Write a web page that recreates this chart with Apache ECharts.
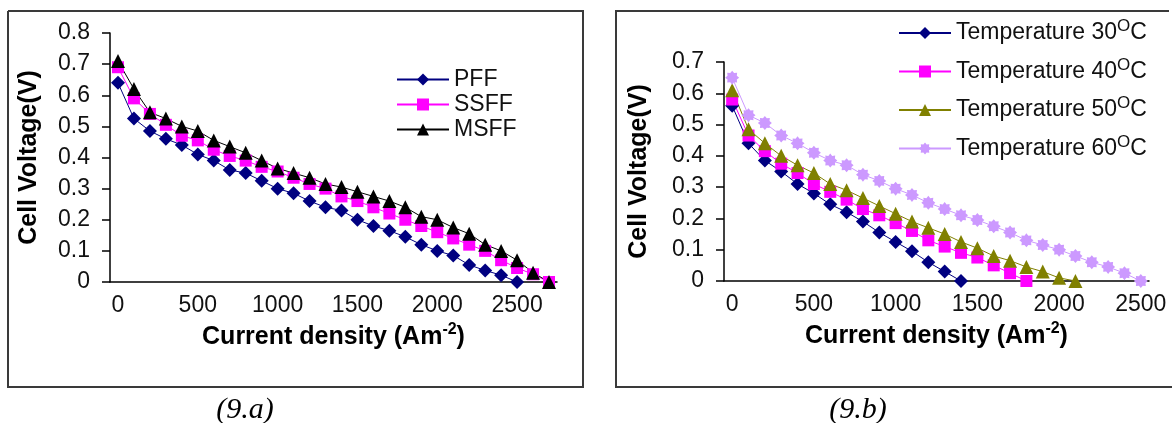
<!DOCTYPE html>
<html>
<head>
<meta charset="utf-8">
<script src="https://cdn.jsdelivr.net/npm/echarts@6/dist/echarts.min.js"></script>
<style>
  html, body { margin: 0; padding: 0; background: #fff; }
  #chart { width: 1172px; height: 423px; }
</style>
</head>
<body>
<div id="chart"></div>
<script>
// Current density categories (A m^-2) for the flow-field comparison
const densityA = [0, 100, 200, 300, 400, 500, 600, 700, 800, 900, 1000, 1100, 1200, 1300,
  1400, 1500, 1600, 1700, 1800, 1900, 2000, 2100, 2200, 2300, 2400, 2500, 2600, 2700];
// Cell voltage (V) per flow field design
const pff = [0.64, 0.525, 0.485, 0.46, 0.44, 0.41, 0.39, 0.36, 0.35, 0.325, 0.30, 0.285, 0.26, 0.24,
  0.23, 0.20, 0.18, 0.165, 0.145, 0.12, 0.10, 0.085, 0.055, 0.037, 0.022, 0.0];
const ssff = [0.69, 0.59, 0.54, 0.505, 0.47, 0.455, 0.425, 0.405, 0.39, 0.37, 0.355, 0.335, 0.315, 0.30,
  0.275, 0.26, 0.24, 0.22, 0.20, 0.18, 0.16, 0.14, 0.12, 0.10, 0.07, 0.045, 0.025, 0.0];
const msff = [0.71, 0.62, 0.545, 0.525, 0.50, 0.485, 0.455, 0.435, 0.415, 0.39, 0.365, 0.35, 0.335, 0.315,
  0.305, 0.29, 0.275, 0.26, 0.24, 0.21, 0.20, 0.175, 0.155, 0.12, 0.10, 0.07, 0.03, 0.0];
const flowFieldNames = ['PFF', 'SSFF', 'MSFF'];

// Current density categories (A m^-2) for the temperature study
const densityB = [0, 100, 200, 300, 400, 500, 600, 700, 800, 900, 1000, 1100, 1200,
  1300, 1400, 1500, 1600, 1700, 1800, 1900, 2000, 2100, 2200, 2300, 2400, 2500];
// Cell voltage (V) per operating temperature
const temp30 = [0.56, 0.44, 0.385, 0.35, 0.31, 0.28, 0.245, 0.22, 0.19, 0.155, 0.125, 0.095, 0.06, 0.03, 0.0];
const temp40 = [0.58, 0.465, 0.415, 0.375, 0.345, 0.31, 0.285, 0.26, 0.23, 0.21, 0.185, 0.16, 0.13,
  0.11, 0.09, 0.075, 0.05, 0.025, 0.0];
const temp50 = [0.61, 0.485, 0.44, 0.40, 0.37, 0.345, 0.31, 0.29, 0.265, 0.24, 0.215, 0.19, 0.17,
  0.15, 0.125, 0.105, 0.08, 0.065, 0.045, 0.03, 0.01, 0.0];
const temp60 = [0.65, 0.53, 0.505, 0.465, 0.44, 0.41, 0.385, 0.37, 0.34, 0.32, 0.295, 0.275, 0.25,
  0.23, 0.21, 0.195, 0.175, 0.155, 0.13, 0.115, 0.10, 0.08, 0.06, 0.045, 0.025, 0.0];
const temperatures = ['30', '40', '50', '60'];

const SANS = "'Liberation Sans', Arial, sans-serif";
const SERIF = "'Liberation Serif', 'Times New Roman', serif";

// eight-point star marker
function starPath() {
  const pts = [];
  for (let k = 0; k < 16; k++) {
    const a = k * Math.PI / 8;
    const r = k % 2 ? 7.2 : 10;
    pts.push((10 + r * Math.cos(a)).toFixed(2) + ' ' + (10 + r * Math.sin(a)).toFixed(2));
  }
  return 'path://M' + pts.join(' L') + ' Z';
}

const axisNameRich = {
  b: { fontFamily: SANS, fontWeight: 'bold', fontSize: 25, lineHeight: 30, color: '#000' },
  bs: { fontFamily: SANS, fontWeight: 'bold', fontSize: 16, lineHeight: 16, verticalAlign: 'top', color: '#000' }
};

function xAxisFor(gridIndex, cats) {
  return {
    type: 'category', gridIndex, data: cats, boundaryGap: true,
    name: '{b|Current density (Am}{bs|-2}{b|)}',
    nameLocation: 'middle', nameGap: 38,
    nameTextStyle: { rich: axisNameRich },
    axisLine: { lineStyle: { color: '#000', width: 1.5 } },
    axisTick: { interval: 0, length: 8, lineStyle: { color: '#000', width: 1.5 } },
    axisLabel: {
      interval: (idx) => idx % 5 === 0,
      fontFamily: SANS, fontSize: 23, color: '#111', margin: 12
    },
    splitLine: { show: false }
  };
}

function yAxisFor(gridIndex, max, gap) {
  return {
    type: 'value', gridIndex, min: 0, max, interval: 0.1,
    name: 'Cell Voltage(V)', nameLocation: 'middle', nameGap: gap,
    nameTextStyle: { fontFamily: SANS, fontWeight: 'bold', fontSize: 25, color: '#000' },
    axisLine: { show: true, lineStyle: { color: '#000', width: 1.5 } },
    axisTick: { show: true, length: 8, lineStyle: { color: '#000', width: 1.5 } },
    axisLabel: { fontFamily: SANS, fontSize: 23, color: '#111', margin: 20 },
    splitLine: { show: false }
  };
}

function lineSeries(name, data, color, symbol, size, axisIdx) {
  return {
    name, type: 'line', data, xAxisIndex: axisIdx, yAxisIndex: axisIdx,
    symbol, symbolSize: size, showAllSymbol: true,
    lineStyle: { color, width: 1 },
    itemStyle: { color, borderWidth: 0 },
    animation: false
  };
}

const tempColors = ['#000080', '#FF00FF', '#808000', '#CC99FF'];
const tempSymbols = ['diamond', 'rect', 'triangle', starPath()];
const tempSizes = [14, 12, 14, 14];
const tempData = [temp30, temp40, temp50, temp60];

const chart = echarts.init(document.getElementById('chart'), null, { renderer: 'canvas' });

chart.setOption({
  backgroundColor: '#fff',
  animation: false,
  grid: [
    { left: 110, top: 33, width: 447, height: 249 },
    { left: 724, top: 62, width: 425, height: 219 }
  ],
  xAxis: [xAxisFor(0, densityA), xAxisFor(1, densityB)],
  yAxis: [yAxisFor(0, 0.8, 68), yAxisFor(1, 0.7, 72)],
  legend: [
    {
      data: flowFieldNames, orient: 'vertical', left: 396, top: 67, padding: 0,
      itemWidth: 52, itemHeight: 15, itemGap: 0,
      textStyle: { fontFamily: SANS, fontSize: 23, color: '#111', lineHeight: 25 }
    },
    {
      data: temperatures.map(t => 'Temperature ' + t + '°C'),
      orient: 'vertical', left: 898, top: 18, padding: 0,
      itemWidth: 52, itemHeight: 15, itemGap: 12,
      formatter: (name) => '{t|' + name.replace('°C', '') + '}{s|O}{t|C}',
      textStyle: {
        color: '#111',
        rich: {
          t: { fontFamily: SANS, fontSize: 23, lineHeight: 30, color: '#111' },
          s: { fontFamily: SANS, fontSize: 17, lineHeight: 16, verticalAlign: 'top', color: '#111' }
        }
      }
    }
  ],
  series: [
    lineSeries('PFF', pff, '#000080', 'diamond', 14, 0),
    lineSeries('SSFF', ssff, '#FF00FF', 'rect', 12, 0),
    lineSeries('MSFF', msff, '#000000', 'triangle', 14, 0),
    ...temperatures.map((t, i) =>
      lineSeries('Temperature ' + t + '°C', tempData[i], tempColors[i], tempSymbols[i], tempSizes[i], 1))
  ],
  graphic: [
    {
      type: 'polyline', silent: true,
      shape: { points: [[8, 11], [583, 11], [583, 387], [8, 387], [8, 11]] },
      style: { stroke: '#3a3a3a', lineWidth: 2, fill: null }
    },
    {
      type: 'polyline', silent: true,
      shape: { points: [[1169, 11], [616, 11], [616, 387], [1172, 387]] },
      style: { stroke: '#3a3a3a', lineWidth: 2, fill: null }
    },
    {
      type: 'text', silent: true,
      style: { text: '(9.a)', x: 245, y: 410, align: 'center', verticalAlign: 'middle',
        font: 'italic 30px ' + SERIF, fill: '#000' }
    },
    {
      type: 'text', silent: true,
      style: { text: '(9.b)', x: 858, y: 410, align: 'center', verticalAlign: 'middle',
        font: 'italic 30px ' + SERIF, fill: '#000' }
    }
  ]
});
</script>
</body>
</html>
